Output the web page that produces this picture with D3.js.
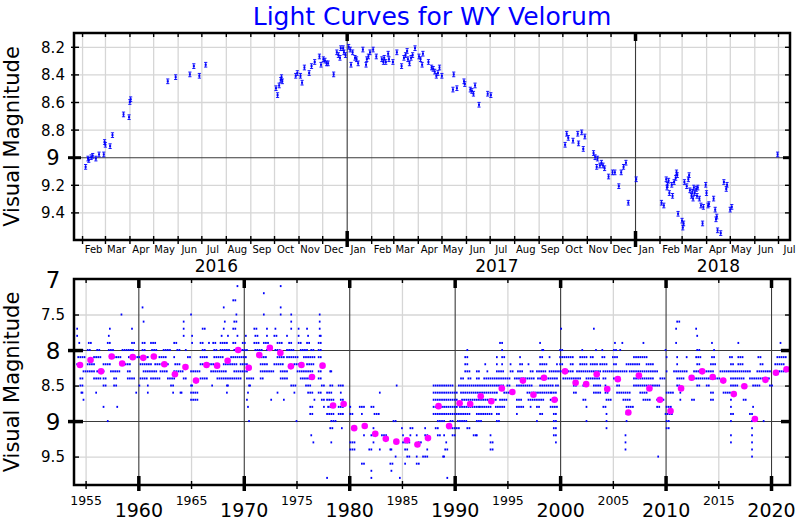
<!DOCTYPE html>
<html><head><meta charset="utf-8">
<script src="https://cdn.jsdelivr.net/npm/d3@7"></script>
<style>body{margin:0;background:#fff}svg{display:block}text{font-family:"DejaVu Sans",sans-serif}</style>
</head><body><svg id="c" width="800" height="520"></svg>
<script>
const TITLE = "Light Curves for WY Velorum";
const Y_LABEL = "Visual Magnitude";

// ---- Top panel: recent measurements (Julian Date, magnitude) ----
const recentPoints = [
[2457424,9.07],[2457427,9.01],[2457428,9.02],[2457431,9.00],[2457433,8.99],[2457437,9.01],[2457441,8.98],[2457447,8.98],[2457448,8.89],[2457449,8.91],[2457455,8.92],[2457458,8.84],[2457472,8.69],[2457479,8.71],[2457480,8.60],[2457481,8.58],[2457528,8.45],[2457538,8.42],[2457556,8.40],[2457561,8.34],[2457568,8.41],[2457576,8.33],
[2457665,8.50],[2457667,8.55],[2457669,8.48],[2457671,8.44],[2457672,8.42],[2457673,8.45],[2457690,8.41],[2457692,8.39],[2457696,8.41],[2457698,8.46],[2457701,8.35],[2457707,8.39],[2457710,8.34],[2457714,8.31],[2457720,8.27],[2457722,8.33],[2457725,8.29],[2457727,8.30],[2457729,8.32],[2457731,8.32],[2457738,8.40],[2457742,8.24],[2457744,8.26],[2457746,8.28],[2457747,8.21],[2457750,8.21],[2457751,8.24],[2457753,8.26],[2457757,8.20],[2457759,8.22],[2457760,8.33],[2457762,8.24],[2457765,8.28],[2457767,8.29],[2457769,8.32],[2457775,8.22],[2457779,8.33],[2457780,8.29],[2457782,8.27],[2457784,8.24],[2457788,8.22],[2457792,8.27],[2457799,8.29],[2457801,8.31],[2457802,8.28],[2457804,8.31],[2457807,8.25],[2457808,8.29],[2457813,8.31],[2457818,8.24],[2457824,8.34],[2457827,8.28],[2457829,8.26],[2457831,8.23],[2457832,8.29],[2457834,8.32],[2457836,8.28],[2457838,8.26],[2457841,8.21],[2457846,8.27],[2457848,8.29],[2457850,8.33],[2457851,8.25],[2457858,8.31],[2457862,8.35],[2457864,8.36],[2457866,8.38],[2457868,8.41],[2457870,8.39],[2457872,8.35],[2457875,8.41],[2457889,8.51],[2457890,8.40],[2457894,8.50],[2457903,8.45],[2457904,8.47],[2457911,8.51],[2457913,8.52],[2457915,8.54],[2457917,8.48],[2457922,8.62],[2457933,8.54],[2457937,8.55],
[2458031,8.91],[2458033,8.83],[2458035,8.86],[2458041,8.88],[2458047,8.83],[2458048,8.90],[2458052,8.82],[2458054,8.94],[2458056,8.85],[2458067,8.97],[2458069,9.00],[2458071,9.07],[2458072,9.01],[2458075,9.06],[2458077,9.04],[2458079,9.06],[2458081,9.08],[2458086,9.14],[2458091,9.11],[2458094,9.11],[2458099,9.21],[2458102,9.11],[2458105,9.07],[2458108,9.04],[2458111,9.33],[2458121,9.16],
[2458153,9.33],[2458156,9.35],[2458159,9.16],[2458160,9.22],[2458160.5,9.20],[2458162,9.17],[2458163,9.26],[2458166,9.20],[2458167,9.28],[2458169,9.18],[2458171,9.15],[2458172,9.11],[2458173,9.13],[2458174,9.41],[2458179,9.46],[2458180,9.51],[2458181,9.48],[2458182,9.18],[2458185,9.21],[2458187,9.16],[2458188,9.13],[2458189,9.24],[2458191,9.28],[2458192,9.25],[2458193,9.30],[2458194,9.22],[2458195,9.26],[2458197,9.23],[2458198,9.28],[2458199,9.22],[2458201,9.30],[2458203,9.35],[2458205,9.48],[2458206,9.36],[2458209,9.20],[2458210,9.26],[2458212,9.35],[2458213,9.34],[2458219,9.30],[2458221,9.38],[2458222,9.45],[2458223,9.43],[2458224,9.53],[2458228,9.55],[2458232,9.18],[2458235,9.23],[2458236,9.20],[2458240,9.38],[2458242,9.36],[2458300,8.98]
];
const recentErr = 0.017;
const topDomainJD = [2457409.3, 2458315.7];
const topMagTicks = [8.2, 8.4, 8.6, 8.8, 9, 9.2, 9.4];
const topMagDomain = [8.1, 9.6];
const topYears = [2016, 2017, 2018];

// ---- Bottom panel: yearly means ----
const meanYears = [1954,1955,1956,1957,1958,1959,1960,1961,1962,1963,1964,1965,1966,1967,1968,1969,1970,1971,1972,1973,1974,1975,1976,1977,1978,1979,1980,1981,1982,1983,1984,1985,1986,1987,1988,1989,1990,1991,1992,1993,1994,1995,1996,1997,1998,1999,2000,2001,2002,2003,2004,2005,2006,2007,2008,2009,2010,2011,2012,2013,2014,2015,2016,2017,2018,2019,2020,2021];
const meanMags = [8.21,8.14,8.30,8.09,8.19,8.10,8.11,8.09,8.20,8.34,8.24,8.43,8.21,8.22,8.15,8.00,8.25,8.07,7.97,8.04,8.23,8.21,8.38,8.22,8.78,8.76,9.10,9.07,9.18,9.25,9.29,9.27,9.33,9.24,8.79,9.07,8.75,8.76,8.65,8.72,8.54,8.59,8.43,8.63,8.39,8.70,8.30,8.46,8.48,8.34,8.55,8.41,8.88,8.36,8.54,8.70,8.86,8.54,8.39,8.30,8.38,8.43,8.62,8.51,8.97,8.42,8.32,8.27];

// ---- Bottom panel: individual visual estimates, grouped by estimated magnitude (decimal years) ----
const visualEstimates = [
[7.1,[1969.4,1973.5]],
[7.2,[1971.9]],
[7.3,[1969.0,1969.2]],
[7.4,[1960.4,1968.1,1973.5]],
[7.5,[1958.4,1965.0,1969.3,1971.9,1973.5,1974.5,1977.2]],
[7.6,[1960.5,1964.3,1968.2,1969.1,1969.3,1974.5,1977.2,2011.1,2011.3]],
[7.7,[1954.2,1957.3,1959.4,1964.3,1966.1,1966.3,1968.1,1969.0,1969.2,1971.0,1971.2,1972.2,1973.0,1974.5,1975.2,1976.0,1977.2,2000.1,2003.2,2011.0,2012.9]],
[7.8,[1954.2,1957.2,1964.3,1965.1,1967.9,1968.5,1969.4,1970.2,1971.1,1971.3,1972.2,1972.9,1973.1,1974.1,1975.2,1976.1,1977.2,1977.3,2013.0]],
[7.9,[1954.4,1955.3,1955.5,1957.1,1957.3,1959.4,1959.6,1960.4,1960.6,1961.2,1961.4,1961.6,1963.4,1963.6,1965.1,1965.9,1966.1,1966.7,1967.1,1967.3,1967.8,1968.0,1968.2,1968.4,1969.0,1969.2,1969.9,1970.1,1971.0,1971.2,1971.4,1971.9,1972.1,1972.3,1973.2,1973.4,1973.6,1974.3,1974.5,1975.2,1975.4,1976.0,1976.2,1977.1,1977.3,1994.3,1994.5,1998.1,2005.2,2005.9,2007.9,2011.0,2014.4,2016.9,2020.9]],
[8.0,[1954.5,1954.7,1955.2,1955.4,1956.1,1956.3,1957.2,1957.4,1957.6,1958.5,1958.7,1958.9,1959.1,1959.3,1959.5,1960.4,1960.6,1961.3,1961.5,1961.7,1962.4,1962.6,1962.8,1963.0,1963.7,1963.9,1964.5,1966.1,1966.3,1967.2,1967.4,1967.8,1968.0,1968.2,1968.4,1968.6,1969.1,1969.3,1969.5,1969.7,1969.9,1970.1,1970.3,1971.1,1971.3,1971.5,1971.7,1972.2,1972.4,1973.0,1973.2,1973.4,1974.1,1974.3,1974.5,1974.7,1975.4,1975.6,1975.8,1976.0,1976.4,1976.6,1977.1,1977.3,1991.2,1994.5,1998.3,1998.4,2000.0,2000.2,2002.1,2003.4,2004.0,2005.1,2005.3,2005.7,2010.0,2013.0,2013.2,2014.6,2021.0,2021.2]],
[8.1,[1954.3,1954.5,1954.7,1954.9,1955.8,1956.0,1956.2,1956.4,1957.7,1957.9,1958.1,1958.3,1959.1,1959.3,1959.5,1959.7,1959.9,1960.1,1960.5,1960.7,1960.9,1962.0,1962.2,1962.4,1962.6,1963.4,1964.7,1964.9,1965.9,1966.1,1966.3,1966.5,1967.2,1967.4,1967.6,1967.8,1968.0,1968.8,1969.0,1969.2,1969.4,1969.6,1969.8,1970.0,1970.2,1971.5,1971.7,1971.9,1972.1,1973.2,1973.4,1973.6,1973.8,1974.1,1974.3,1974.5,1974.7,1974.9,1975.1,1975.7,1975.9,1976.1,1976.3,1976.5,1976.7,1977.1,1977.3,1991.0,1991.2,1994.0,1994.5,1994.7,1996.2,1998.1,1998.3,1999.0,2000.0,2000.2,2000.4,2000.6,2000.8,2001.0,2001.2,2001.9,2002.1,2002.3,2002.5,2002.9,2003.1,2004.0,2004.2,2005.0,2005.2,2005.4,2007.0,2007.2,2007.4,2007.6,2007.8,2008.0,2008.2,2010.1,2011.1,2012.0,2012.9,2013.1,2013.3,2014.4,2014.6,2016.1,2016.3,2016.9,2017.1,2017.3,2018.8,2019.0,2020.6,2020.8,2021.0,2021.2,2021.4]],
[8.2,[1954.2,1954.4,1955.2,1955.4,1955.6,1955.8,1956.7,1956.9,1957.1,1957.3,1958.6,1958.8,1959.0,1959.2,1960.2,1960.4,1960.6,1960.8,1961.0,1961.2,1961.6,1961.8,1962.0,1962.2,1962.4,1962.6,1962.8,1963.5,1963.7,1963.9,1965.9,1966.1,1966.3,1966.5,1966.7,1966.9,1967.1,1968.1,1968.3,1968.5,1968.7,1968.9,1969.1,1969.3,1969.7,1969.9,1970.1,1970.3,1971.6,1971.8,1972.0,1972.2,1972.9,1973.1,1973.3,1973.5,1973.7,1974.8,1975.0,1975.2,1975.4,1975.6,1976.0,1976.2,1976.4,1976.6,1977.4,1991.0,1991.2,1992.9,1994.0,1994.5,1995.3,1996.2,1996.4,1997.0,1998.1,1998.3,1998.5,1998.7,1999.7,2000.0,2000.2,2001.0,2001.2,2001.9,2002.1,2002.3,2002.5,2002.9,2003.1,2003.3,2003.5,2003.8,2004.0,2004.2,2004.4,2005.1,2005.3,2006.3,2006.5,2006.7,2006.9,2007.1,2007.3,2007.5,2008.2,2008.4,2008.6,2008.8,2011.1,2013.0,2013.2,2014.3,2014.5,2014.7,2016.2,2016.4,2016.9,2017.1,2017.3,2019.0,2019.2,2020.4,2020.6,2020.8,2021.0,2021.2]],
[8.3,[1954.8,1955.0,1955.2,1955.4,1955.6,1955.8,1956.1,1956.3,1956.5,1956.7,1957.4,1957.6,1957.8,1958.0,1958.2,1959.0,1959.2,1960.5,1960.7,1960.9,1961.1,1961.3,1961.5,1961.7,1962.1,1962.3,1962.5,1962.7,1963.4,1963.6,1963.8,1964.0,1964.2,1965.0,1965.2,1965.4,1965.6,1965.8,1966.9,1967.1,1967.3,1967.5,1967.7,1967.9,1968.1,1968.3,1969.1,1969.3,1969.5,1969.7,1969.9,1970.1,1970.3,1971.6,1971.8,1972.0,1972.2,1972.4,1972.6,1972.8,1973.5,1973.7,1973.9,1974.1,1975.1,1975.3,1975.5,1975.7,1975.9,1976.1,1976.3,1976.5,1977.1,1977.3,1978.2,1978.3,1991.0,1991.2,1991.4,1992.1,1992.3,1993.1,1994.0,1994.2,1994.4,1994.6,1995.3,1995.5,1996.0,1996.2,1996.4,1997.2,1997.4,1997.8,1998.0,1998.2,1998.4,1998.6,1999.0,1999.2,1999.4,1999.6,1999.8,2000.0,2000.2,2000.4,2000.6,2000.8,2001.0,2001.2,2001.6,2001.8,2002.0,2002.2,2002.4,2002.6,2002.8,2003.0,2003.2,2003.4,2003.6,2003.8,2004.1,2004.3,2004.5,2004.7,2004.9,2005.1,2005.3,2005.5,2005.7,2005.9,2006.1,2006.3,2006.6,2006.8,2007.0,2007.2,2007.4,2007.6,2007.8,2008.0,2008.2,2008.4,2008.6,2008.8,2009.0,2009.2,2010.1,2010.8,2011.0,2011.2,2011.4,2011.6,2011.8,2012.0,2012.7,2012.9,2013.1,2013.3,2013.5,2013.7,2013.9,2014.1,2014.3,2014.5,2015.2,2015.4,2015.6,2015.8,2016.0,2016.2,2016.4,2016.6,2016.8,2017.0,2017.2,2017.4,2017.6,2017.8,2018.0,2018.7,2018.9,2019.1,2019.3,2019.5,2019.7,2019.9,2020.4,2020.6,2020.8,2021.0,2021.2,2021.4]],
[8.4,[1954.5,1954.7,1955.8,1956.0,1956.2,1956.4,1956.7,1956.9,1957.7,1957.9,1959.0,1959.2,1959.4,1959.6,1960.2,1960.4,1960.6,1960.8,1961.2,1961.4,1961.6,1961.8,1962.0,1962.8,1963.0,1963.2,1963.4,1964.3,1964.5,1965.9,1966.1,1966.3,1966.5,1967.5,1967.7,1967.9,1968.1,1968.3,1968.5,1968.7,1968.9,1969.1,1969.3,1969.5,1969.7,1970.3,1970.5,1970.7,1970.9,1971.6,1971.8,1973.5,1973.7,1973.9,1974.1,1975.4,1975.6,1975.8,1976.0,1976.2,1976.4,1977.1,1977.3,1990.6,1990.8,1991.3,1991.5,1992.1,1992.3,1992.8,1993.0,1993.2,1993.4,1993.6,1993.8,1994.0,1994.2,1994.4,1994.6,1994.8,1995.0,1995.2,1995.7,1995.9,1996.1,1996.3,1996.5,1996.7,1996.9,1997.1,1997.3,1997.5,1997.9,1998.1,1998.3,1998.5,1998.7,1998.9,1999.1,1999.3,1999.5,1999.7,2000.3,2000.5,2000.7,2000.9,2001.1,2001.3,2001.5,2001.7,2001.9,2002.5,2002.7,2002.9,2003.1,2003.3,2003.5,2003.7,2004.1,2004.3,2005.1,2005.3,2007.0,2007.2,2007.4,2007.6,2007.8,2008.0,2008.2,2008.4,2008.6,2008.8,2009.5,2009.7,2009.9,2011.1,2011.3,2011.5,2011.7,2012.7,2012.9,2013.1,2013.3,2013.5,2013.7,2013.9,2014.1,2014.3,2014.5,2014.7,2014.9,2015.1,2016.2,2016.4,2016.6,2016.8,2017.0,2017.2,2017.4,2018.0,2018.2,2018.4,2018.6,2018.8,2019.0,2019.2,2019.4,2019.6,2019.8]],
[8.5,[1954.5,1954.7,1956.7,1956.9,1957.7,1957.9,1960.1,1960.9,1963.1,1963.3,1965.0,1965.1,1967.0,1968.4,1968.5,1970.5,1970.6,1974.5,1974.7,1974.9,1975.9,1976.1,1976.3,1977.4,1977.6,1978.2,1978.4,1979.0,1979.2,1979.4,1984.5,1988.0,1988.2,1988.4,1988.6,1988.8,1989.0,1989.2,1989.4,1989.6,1989.8,1990.4,1990.6,1990.8,1991.0,1991.2,1991.4,1991.6,1991.8,1992.0,1992.2,1992.4,1992.6,1992.8,1993.0,1993.2,1993.4,1993.6,1993.8,1994.0,1994.2,1994.4,1994.6,1995.0,1995.2,1995.9,1996.1,1996.3,1996.5,1996.7,1996.9,1997.1,1997.3,1998.1,1998.3,1998.5,1998.7,1998.9,1999.1,1999.3,1999.6,1999.8,2001.3,2001.5,2002.2,2002.4,2003.2,2003.4,2003.6,2003.8,2004.3,2005.4,2005.6,2007.0,2007.2,2007.4,2007.6,2007.8,2008.0,2008.2,2008.4,2008.6,2008.8,2009.0,2009.2,2009.4,2011.1,2011.3,2013.0,2013.2,2013.9,2014.1,2016.2,2016.4,2016.6,2016.8,2018.3,2018.5,2018.7,2018.9,2019.9,2020.1]],
[8.6,[1954.6,1954.7,1956.0,1959.8,1960.9,1963.3,1964.0,1964.1,1965.0,1965.2,1965.4,1965.6,1968.4,1970.4,1973.2,1974.8,1976.1,1976.3,1976.5,1977.1,1977.3,1977.9,1978.1,1978.3,1979.2,1982.9,1988.0,1988.2,1988.4,1988.6,1988.8,1989.0,1989.2,1989.4,1989.6,1989.8,1990.0,1990.2,1990.6,1990.8,1991.0,1991.2,1991.4,1991.6,1991.8,1992.0,1992.2,1992.4,1992.6,1992.8,1993.0,1993.2,1993.4,1993.6,1993.8,1994.0,1994.7,1994.9,1995.1,1995.3,1996.9,1997.1,1997.3,1997.5,1997.7,1997.9,1998.1,1998.3,1998.5,1998.7,1998.9,1999.1,1999.2,1999.4,1999.6,2001.3,2001.5,2003.2,2003.4,2003.6,2003.8,2004.3,2004.5,2005.4,2005.6,2005.8,2006.0,2006.2,2006.4,2006.6,2007.6,2007.8,2008.0,2008.2,2010.1,2010.3,2010.5,2010.7,2011.4,2014.3,2014.5,2015.5,2015.7,2015.9,2016.1]],
[8.7,[1954.8,1965.0,1965.2,1965.4,1965.6,1970.3,1972.6,1973.8,1976.7,1977.4,1977.6,1977.9,1978.1,1978.3,1978.5,1979.2,1979.4,1988.0,1988.2,1988.4,1988.6,1988.8,1989.0,1989.2,1989.4,1989.6,1989.8,1990.0,1990.2,1990.7,1990.9,1991.1,1991.3,1991.5,1991.7,1991.9,1992.1,1992.3,1992.5,1992.7,1992.9,1993.1,1993.3,1993.5,1993.7,1993.9,1994.3,1994.5,1994.7,1994.9,1995.9,1996.1,1996.3,1997.0,1997.2,1997.4,1997.6,1997.8,1998.0,1998.2,1998.4,1999.1,1999.3,1999.5,1999.7,2002.2,2002.4,2004.4,2004.6,2004.8,2006.0,2006.2,2006.4,2006.6,2007.9,2008.1,2008.3,2008.5,2009.2,2009.4,2009.6,2009.8,2011.4,2012.5,2012.7,2014.3,2014.5,2016.2,2017.4,2017.6]],
[8.8,[1956.7,1958.0,1970.4,1976.3,1976.5,1977.6,1978.0,1978.2,1979.0,1979.2,1979.4,1980.1,1981.0,1981.2,1981.4,1982.1,1982.3,1988.0,1988.2,1988.4,1988.6,1988.8,1989.0,1989.2,1989.4,1989.6,1989.8,1990.0,1990.2,1990.5,1990.7,1990.9,1991.1,1991.3,1991.5,1991.7,1991.9,1992.1,1992.3,1992.4,1992.6,1992.8,1993.0,1993.2,1993.4,1993.9,1994.1,1994.3,1994.5,1994.7,1995.9,1996.1,1996.3,1996.5,1997.2,1997.8,1998.0,1999.1,1999.3,1999.5,1999.7,2002.5,2004.1,2004.3,2006.3,2006.5,2006.7,2006.9,2009.2,2009.4,2010.1,2010.3,2010.5,2016.2,2018.3]],
[8.9,[1976.3,1976.5,1977.9,1978.1,1978.3,1978.5,1979.0,1979.2,1979.4,1980.1,1980.3,1981.2,1982.4,1982.6,1982.8,1988.0,1988.2,1988.4,1988.6,1988.8,1989.0,1989.2,1989.4,1989.6,1989.8,1990.0,1990.2,1990.4,1990.6,1990.8,1991.0,1991.2,1991.4,1992.1,1992.3,1992.5,1992.7,1992.9,1993.1,1993.3,1993.5,1994.0,1994.2,1995.9,1998.1,1998.3,1999.4,1999.6,2004.4,2006.3,2006.5,2010.0,2010.2,2010.4,2010.6,2016.2,2016.4,2018.0,2018.2]],
[9.0,[1957.1,1970.5,1975.0,1978.3,1978.5,1978.7,1984.2,1984.4,1988.4,1988.6,1988.8,1989.0,1989.6,1989.8,1990.3,1990.5,1990.7,1990.9,1991.1,1992.1,1992.3,1992.5,1994.0,1994.2,1997.8,1999.4,1999.6,2002.5,2004.4,2006.3,2010.1,2010.3,2016.2,2018.2,2019.3]],
[9.1,[1978.2,1978.4,1979.3,1980.6,1982.3,1985.0,1985.8,1986.0,1987.2,1988.2,1988.4,1989.4,1989.6,1989.8,1990.0,1990.2,1990.4,1991.2,1991.4,1999.4,1999.6,2004.4,2010.1,2010.3,2018.2]],
[9.2,[1976.4,1981.4,1982.1,1982.3,1983.1,1983.3,1983.5,1985.1,1985.8,1986.4,1987.2,1987.4,1988.4,1988.6,1989.0,1989.8,1990.0,1991.8,1992.0,1992.1,1993.4,1999.4,1999.6,2006.2,2016.2,2018.2]],
[9.3,[1976.6,1978.3,1980.1,1980.3,1980.5,1982.3,1984.4,1985.1,1985.3,1985.5,1985.7,1986.6,1986.8,1989.2,1993.4,1993.6,1999.6,2006.2,2016.2,2018.2]],
[9.4,[1980.1,1980.3,1980.5,1981.9,1982.1,1982.9,1983.9,1984.0,1985.3,1985.5,1987.4,1989.1,1989.3,1993.4,1993.6,2006.2,2018.2]],
[9.5,[1984.4,1985.5,1985.7,1986.4,1987.0,1987.2,1987.4,1988.9,1989.0,2009.3,2018.2]],
[9.6,[1981.2,1981.4,1983.9,1984.1,1985.3,1986.4,1986.6]],
[9.7,[1982.1,1984.0]],
[9.8,[1977.9,1982.1,1984.8,1989.3]]
];
const bottomYearDomain = [1953.9, 2021.8];
const bottomMagDomain = [7, 9.9];
const bottomMagMajor = [7, 8, 9];
const bottomMagMinor = [7.5, 8.5, 9.5];
const decadeTicks = [1960, 1970, 1980, 1990, 2000, 2010, 2020];
const halfDecadeTicks = [1955, 1965, 1975, 1985, 1995, 2005, 2015];

// ---------------- drawing ----------------
const svg = d3.select("#c");
const L = 74, R = 790;
const T1 = 33, B1 = 240;
const T2 = 279, B2 = 485;
const BLUE = "#0000ff", MAG = "#ff00ff", LIGHT = "#d6d6d6", DARK = "#3a3a3a";
const clean = g => g.select(".domain").remove();

svg.append("rect").attr("width", 800).attr("height", 520).attr("fill", "#fff");
svg.append("text").attr("x", (L + R) / 2).attr("y", 25).attr("text-anchor", "middle")
  .attr("font-size", 25).attr("fill", BLUE).text(TITLE);

// ===== Top panel =====
const jdToDate = jd => new Date((jd - 2440587.5) * 86400000);
const x1 = d3.scaleUtc().domain(topDomainJD.map(jdToDate)).range([L, R]);
const y1 = d3.scaleLinear().domain(topMagDomain).range([T1, B1]);
const monthStarts = d3.utcMonth.range(x1.domain()[0], x1.domain()[1]);
const yearStarts = monthStarts.filter(d => d.getUTCMonth() === 0);
const otherMonths = monthStarts.filter(d => d.getUTCMonth() !== 0);

const g1 = svg.append("g");
g1.append("g").call(d3.axisBottom(x1).tickValues(otherMonths).tickSize(-(B1 - T1)).tickFormat(""))
  .attr("transform", `translate(0,${B1})`).call(clean)
  .selectAll("line").attr("stroke", LIGHT).attr("stroke-width", 1.3);
g1.append("g").call(d3.axisLeft(y1).tickValues(topMagTicks.filter(d => d !== 9)).tickSize(-(R - L)).tickFormat(""))
  .attr("transform", `translate(${L},0)`).call(clean)
  .selectAll("line").attr("stroke", LIGHT).attr("stroke-width", 1.3);
g1.append("g").call(d3.axisLeft(y1).tickValues([9]).tickSize(-(R - L)).tickFormat(""))
  .attr("transform", `translate(${L},0)`).call(clean)
  .selectAll("line").attr("stroke", DARK).attr("stroke-width", 1.1);
g1.append("g").call(d3.axisBottom(x1).tickValues(yearStarts).tickSize(-(B1 - T1)).tickFormat(""))
  .attr("transform", `translate(0,${B1})`).call(clean)
  .selectAll("line").attr("stroke", DARK).attr("stroke-width", 1.1);

const pts = g1.append("g").attr("stroke", BLUE).attr("stroke-width", 0.9);
recentPoints.forEach(([jd, m]) => {
  const x = x1(jdToDate(jd)), ya = y1(m - recentErr), yb = y1(m + recentErr);
  pts.append("line").attr("x1", x).attr("x2", x).attr("y1", ya).attr("y2", yb);
  pts.append("line").attr("x1", x - 1.6).attr("x2", x + 1.6).attr("y1", ya).attr("y2", ya);
  pts.append("line").attr("x1", x - 1.6).attr("x2", x + 1.6).attr("y1", yb).attr("y2", yb);
  pts.append("rect").attr("x", x - 1).attr("y", y1(m) - 1).attr("width", 2).attr("height", 2).attr("fill", BLUE).attr("stroke", "none");
});

g1.append("rect").attr("x", L).attr("y", T1).attr("width", R - L).attr("height", B1 - T1)
  .attr("fill", "none").attr("stroke", "#000").attr("stroke-width", 2.5);

function ticks(g, axis, tr, w) { g.append("g").attr("transform", tr).call(axis).call(clean).selectAll("line").attr("stroke", "#000").attr("stroke-width", w); }
ticks(g1, d3.axisBottom(x1).tickValues(monthStarts).tickSize(4).tickFormat(""), `translate(0,${B1})`, 1.4);
ticks(g1, d3.axisTop(x1).tickValues(monthStarts).tickSize(4).tickFormat(""), `translate(0,${B1})`, 1.4);
ticks(g1, d3.axisBottom(x1).tickValues(monthStarts).tickSize(4).tickFormat(""), `translate(0,${T1})`, 1.4);
ticks(g1, d3.axisBottom(x1).tickValues(yearStarts).tickSize(7).tickFormat(""), `translate(0,${B1})`, 3.5);
ticks(g1, d3.axisTop(x1).tickValues(yearStarts).tickSize(9).tickFormat(""), `translate(0,${B1})`, 3.5);
ticks(g1, d3.axisBottom(x1).tickValues(yearStarts).tickSize(8).tickFormat(""), `translate(0,${T1})`, 3.5);
ticks(g1, d3.axisLeft(y1).tickValues(topMagTicks).tickSize(3).tickFormat(""), `translate(${L},0)`, 1.4);
ticks(g1, d3.axisRight(y1).tickValues(topMagTicks).tickSize(5).tickFormat(""), `translate(${L},0)`, 1.4);
ticks(g1, d3.axisLeft(y1).tickValues(topMagTicks).tickSize(5).tickFormat(""), `translate(${R},0)`, 1.4);
ticks(g1, d3.axisLeft(y1).tickValues([9]).tickSize(6).tickFormat(""), `translate(${L},0)`, 3);
ticks(g1, d3.axisRight(y1).tickValues([9]).tickSize(7).tickFormat(""), `translate(${L},0)`, 3);
ticks(g1, d3.axisLeft(y1).tickValues([9]).tickSize(7).tickFormat(""), `translate(${R},0)`, 3);

g1.append("g").attr("transform", `translate(${L},0)`)
  .call(d3.axisLeft(y1).tickValues(topMagTicks).tickSize(0).tickFormat(d => d === 9 ? "9" : d3.format(".1f")(d)))
  .call(clean)
  .selectAll("text").attr("x", 53 - L).attr("dy", "0.36em")
  .attr("text-anchor", "middle").attr("fill", "#000")
  .attr("font-size", d => d === 9 ? 21 : 15).attr("font-family", "DejaVu Sans");

const midMonths = monthStarts.map(d => d3.utcDay.offset(d, 14));
g1.append("g").attr("transform", `translate(0,${B1})`)
  .call(d3.axisBottom(x1).tickValues(midMonths).tickSize(0).tickFormat(d3.utcFormat("%b")))
  .call(clean)
  .selectAll("text").attr("y", 13).attr("dy", null).attr("fill", "#000")
  .attr("font-size", 10).attr("font-family", "DejaVu Sans");

topYears.forEach(yr => {
  const a = Math.max(x1(new Date(Date.UTC(yr, 0, 1))), L);
  const b = Math.min(x1(new Date(Date.UTC(yr + 1, 0, 1))), R);
  svg.append("text").attr("x", (a + b) / 2 + 6).attr("y", 272).attr("text-anchor", "middle")
    .attr("font-size", 17).text(String(yr));
});

svg.append("text").attr("transform", `translate(18.5,${(T1 + B1) / 2}) rotate(-90)`)
  .attr("text-anchor", "middle").attr("font-size", 21).text(Y_LABEL);

// ===== Bottom panel =====
const x2 = d3.scaleLinear().domain(bottomYearDomain).range([L, R]);
const y2 = d3.scaleLinear().domain(bottomMagDomain).range([T2, B2]);
const g2 = svg.append("g");

g2.append("g").attr("transform", `translate(0,${B2})`)
  .call(d3.axisBottom(x2).tickValues(halfDecadeTicks).tickSize(-(B2 - T2)).tickFormat("")).call(clean)
  .selectAll("line").attr("stroke", LIGHT).attr("stroke-width", 1.3);
g2.append("g").attr("transform", `translate(${L},0)`)
  .call(d3.axisLeft(y2).tickValues(bottomMagMinor).tickSize(-(R - L)).tickFormat("")).call(clean)
  .selectAll("line").attr("stroke", LIGHT).attr("stroke-width", 1.3);
g2.append("g").attr("transform", `translate(0,${B2})`)
  .call(d3.axisBottom(x2).tickValues(decadeTicks).tickSize(-(B2 - T2)).tickFormat("")).call(clean)
  .selectAll("line").attr("stroke", DARK).attr("stroke-width", 1.1);
g2.append("g").attr("transform", `translate(${L},0)`)
  .call(d3.axisLeft(y2).tickValues([8, 9]).tickSize(-(R - L)).tickFormat("")).call(clean)
  .selectAll("line").attr("stroke", DARK).attr("stroke-width", 1.1);

const flat = [];
visualEstimates.forEach(([m, yrs]) => yrs.forEach(y => flat.push([y, m])));
g2.append("g").selectAll("rect").data(flat).join("rect")
  .attr("x", d => x2(d[0]) - 0.85).attr("y", d => y2(d[1]) - 1)
  .attr("width", 1.7).attr("height", 2).attr("fill", BLUE);

g2.append("g").selectAll("circle").data(meanYears).join("circle")
  .attr("cx", (d) => x2(d + 0.47)).attr("cy", (d, i) => y2(meanMags[i]))
  .attr("r", 3.3).attr("fill", MAG);

g2.append("rect").attr("x", L).attr("y", T2).attr("width", R - L).attr("height", B2 - T2)
  .attr("fill", "none").attr("stroke", "#000").attr("stroke-width", 2.5);

ticks(g2, d3.axisBottom(x2).tickValues(halfDecadeTicks).tickSize(4).tickFormat(""), `translate(0,${B2})`, 1.4);
ticks(g2, d3.axisTop(x2).tickValues(halfDecadeTicks).tickSize(4).tickFormat(""), `translate(0,${B2})`, 1.4);
ticks(g2, d3.axisBottom(x2).tickValues(halfDecadeTicks).tickSize(4).tickFormat(""), `translate(0,${T2})`, 1.4);
ticks(g2, d3.axisBottom(x2).tickValues(decadeTicks).tickSize(6).tickFormat(""), `translate(0,${B2})`, 3.5);
ticks(g2, d3.axisTop(x2).tickValues(decadeTicks).tickSize(9).tickFormat(""), `translate(0,${B2})`, 3.5);
ticks(g2, d3.axisBottom(x2).tickValues(decadeTicks).tickSize(9).tickFormat(""), `translate(0,${T2})`, 3.5);
ticks(g2, d3.axisRight(y2).tickValues(bottomMagMinor).tickSize(5).tickFormat(""), `translate(${L},0)`, 1.4);
ticks(g2, d3.axisLeft(y2).tickValues(bottomMagMinor).tickSize(5).tickFormat(""), `translate(${R},0)`, 1.4);
ticks(g2, d3.axisLeft(y2).tickValues([8, 9]).tickSize(6).tickFormat(""), `translate(${L},0)`, 3.5);
ticks(g2, d3.axisRight(y2).tickValues([8, 9]).tickSize(9).tickFormat(""), `translate(${L},0)`, 3.5);
ticks(g2, d3.axisLeft(y2).tickValues([8, 9]).tickSize(9).tickFormat(""), `translate(${R},0)`, 3.5);

g2.append("g").attr("transform", `translate(${L},0)`)
  .call(d3.axisLeft(y2).tickValues(bottomMagMajor.concat(bottomMagMinor)).tickSize(0)
    .tickFormat(d => Number.isInteger(d) ? String(d) : d3.format(".1f")(d)))
  .call(clean)
  .selectAll("text").attr("x", 53 - L).attr("dy", "0.36em").attr("text-anchor", "middle").attr("fill", "#000")
  .attr("font-size", d => Number.isInteger(d) ? 23 : 15).attr("font-family", "DejaVu Sans");

g2.append("g").attr("transform", `translate(0,${B2})`)
  .call(d3.axisBottom(x2).tickValues(decadeTicks).tickSize(0).tickFormat(d3.format("d")))
  .call(clean)
  .selectAll("text").attr("y", 32).attr("dy", null).attr("fill", "#000")
  .attr("font-size", 19).attr("font-family", "DejaVu Sans");
g2.append("g").attr("transform", `translate(0,${B2})`)
  .call(d3.axisBottom(x2).tickValues(halfDecadeTicks).tickSize(0).tickFormat(d3.format("d")))
  .call(clean)
  .selectAll("text").attr("y", 20).attr("dy", null).attr("fill", "#000")
  .attr("font-size", 12.5).attr("font-family", "DejaVu Sans");

svg.append("text").attr("transform", `translate(18.5,${(T2 + B2) / 2}) rotate(-90)`)
  .attr("text-anchor", "middle").attr("font-size", 21).text(Y_LABEL);
</script></body></html>
